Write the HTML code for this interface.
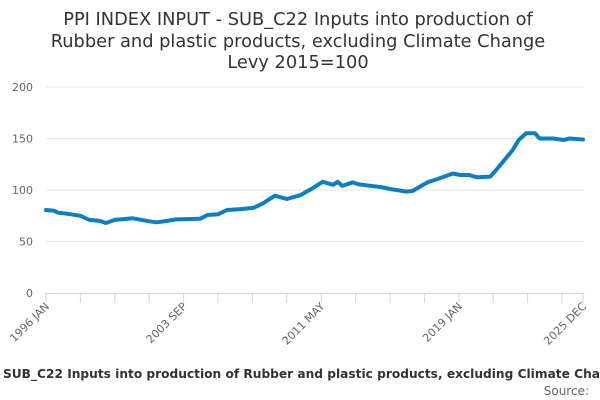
<!DOCTYPE html>
<html><head><meta charset="utf-8"><style>
html,body{margin:0;padding:0;background:#fff;}
svg{display:block;font-family:"DejaVu Sans","Liberation Sans",sans-serif;}
</style></head><body>
<svg id="chart" width="600" height="400" viewBox="0 0 600 400">
<g fill="#333" font-size="17.8" text-anchor="middle">
<text x="298" y="25">PPI INDEX INPUT - SUB_C22 Inputs into production of</text>
<text x="298" y="47">Rubber and plastic products, excluding Climate Change</text>
<text x="298" y="68">Levy 2015=100</text>
</g>
<g id="grid"></g>
<g id="yaxis"></g>
<g id="xaxis"></g>
<g id="series"></g>
<text x="3" y="378" font-size="12.2" font-weight="bold" fill="#333">SUB_C22 Inputs into production of Rubber and plastic products, excluding Climate Change Levy 2015=100</text>
<text x="589" y="395" font-size="12" fill="#666" text-anchor="end">Source:</text>
</svg>
<script>
const monthIdx = [0,5,8,14,23,29,36,40,46,58,69,74,81,87,103,108,115,121,130,139,145,153,161,170,178,185,192,195,198,205,209,225,230,241,245,255,263,272,277,283,288,297,301,312,316,321,327,330,339,346,350,359];
const values = [80.6,80,78,77,75,71,70,68,71,72.5,69.6,68.6,70,71.5,72,75.7,76.4,80.6,81.5,82.8,87,94.5,91.3,95,101.6,108,105,108,104,107.4,105.5,102.6,101,98.4,99,107.4,111.3,116,114.6,114.6,112.3,113,119.4,138.8,148.5,155,155,150,150,148.5,150,149];
const yTicks = [0,50,100,150,200];
const xTickLabels = ["1996 JAN","2003 SEP","2011 MAY","2019 JAN","2025 DEC"];
const xTickLabelMonths = [0,92,184,276,359];
const xMinorTicks = [0,23,46,69,92,115,138,161,184,207,230,253,276,299,322,345,359];

const X0=46, X1=583, Y0=293, Y1=87, MAXM=359, MAXV=200;
const xs = m => X0 + (X1-X0)*m/MAXM;
const ys = v => Y0 - (Y0-Y1)*v/MAXV;
const NS="http://www.w3.org/2000/svg";
function mk(tag, attrs, parent){const e=document.createElementNS(NS,tag);for(const k in attrs)e.setAttribute(k,attrs[k]);parent.appendChild(e);return e;}
const grid=document.getElementById('grid'), ya=document.getElementById('yaxis'), xa=document.getElementById('xaxis'), ser=document.getElementById('series');

yTicks.forEach(v=>{
  if(v>0){const l=mk('line',{x1:X0,x2:584,y1:ys(v),y2:ys(v),stroke:'#e6e6e6','stroke-width':1},grid);
  
  }
  const t=mk('text',{x:33,y:ys(v)+4,'font-size':11,fill:'#666','text-anchor':'end'},ya);
  t.textContent=v;
  
  
});
const ax=mk('line',{x1:X0,x2:584,y1:Y0+0.5,y2:Y0+0.5,stroke:'#ccd6eb','stroke-width':1},xa);


xMinorTicks.forEach(m=>{
  const t=mk('line',{x1:xs(m),x2:xs(m),y1:Y0,y2:Y0+10,stroke:'#ccd6eb','stroke-width':1},xa);
  
  
});
xTickLabels.forEach((lab,i)=>{
  const x=xs(xTickLabelMonths[i])+4, y=Y0+14;
  const t=mk('text',{x:x,y:y,'font-size':11,fill:'#666','text-anchor':'end',transform:`rotate(-45 ${x} ${y})`},xa);
  t.textContent=lab;
  
  
});
const d=monthIdx.map((m,i)=>(i?'L':'M')+xs(m).toFixed(1)+' '+ys(values[i]).toFixed(1)).join(' ');
const p=mk('path',{d:d,fill:'none',stroke:'#0a7fc5','stroke-width':4,'stroke-linejoin':'round','stroke-linecap':'round'},ser);


</script>
</body></html>
